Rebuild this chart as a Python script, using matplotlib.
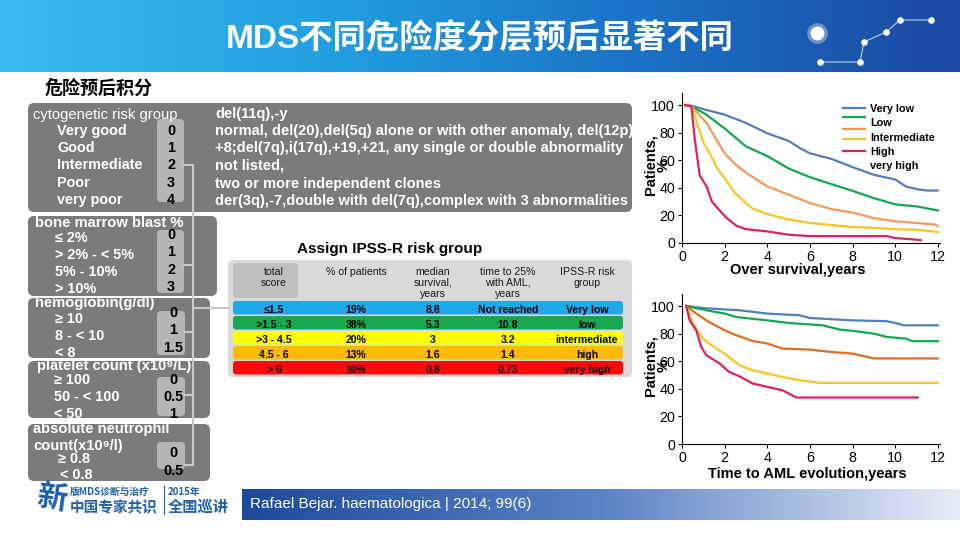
import numpy as np
import matplotlib
matplotlib.use("Agg")
import matplotlib.pyplot as plt
from matplotlib.patches import FancyBboxPatch, Rectangle
from matplotlib.colors import LinearSegmentedColormap

plt.rcParams['font.family'] = ['Liberation Sans', 'Noto Sans CJK SC', 'DejaVu Sans']

title = "MDS不同危险度分层预后显著不同"
subtitle = "危险预后积分"

# scoring panels
cyto_groups = ["Very good", "Good", "Intermediate", "Poor", "very poor"]
cyto_scores = ["0", "1", "2", "3", "4"]
cyto_desc = ["del(11q),-y",
             "normal, del(20),del(5q) alone or with other anomaly, del(12p)",
             "+8;del(7q),i(17q),+19,+21, any single or double abnormality",
             "not listed,",
             "two or more independent clones",
             "der(3q),-7,double with del(7q),complex with 3 abnormalities"]
blast_items = ["≤ 2%", "> 2% - < 5%", "5% - 10%", "> 10%"]
blast_scores = ["0", "1", "2", "3"]
hb_items = ["≥ 10", "8 - < 10", "< 8"]
hb_scores = ["0", "1", "1.5"]
plt_items = ["≥ 100", "50 - < 100", "< 50"]
plt_scores = ["0", "0.5", "1"]
anc_items = ["≥ 0.8", "< 0.8"]
anc_scores = ["0", "0.5"]

# IPSS-R table
table_headers = ["total\nscore", "% of patients", "median\nsurvival,\nyears",
                 "time to 25%\nwith AML,\nyears", "IPSS-R risk\ngroup"]
total_score = ["≤1.5", ">1.5 - 3", ">3 - 4.5", "4.5 - 6", "> 6"]
pct_patients = ["19%", "38%", "20%", "13%", "10%"]
median_surv = ["8.8", "5.3", "3", "1.6", "0.8"]
time_aml = ["Not reached", "10.8", "3.2", "1.4", "0.73"]
risk_group = ["Very low", "low", "intermediate", "high", "very high"]
row_colors = ["#1ea9ea", "#16a84e", "#ffff00", "#ffb900", "#ff0a0a"]

# overall survival curves (years, % patients)
os_vlow_t = [0.15, 0.45, 1, 2, 3, 4, 5, 5.5, 6, 7, 8, 9, 10, 10.5, 11, 11.5, 12]
os_vlow = [100, 99.5, 97, 93, 87, 79.5, 74, 69, 65, 61, 55, 49.4, 46, 41, 39, 38, 38]
os_low_t = [0.15, 0.45, 1.15, 2, 3, 4, 5, 6, 7, 8, 9, 10, 11, 12]
os_low = [100, 99, 93, 83, 70, 63, 54, 47.7, 42.7, 37.8, 32.5, 28, 26.5, 23.6]
os_int_t = [0.15, 0.45, 1.15, 2, 2.5, 3, 4, 5, 6, 7, 8, 9, 10, 11, 11.9, 12]
os_int = [100, 99, 87, 65, 57, 51, 41, 35, 29, 24.6, 22, 18, 15.7, 14.5, 13.3, 12]
os_high_t = [0.15, 0.45, 0.83, 1, 1.3, 1.7, 2, 2.5, 3, 3.3, 4, 5, 6, 7, 8, 9, 10, 11, 12]
os_high = [100, 99, 81, 73, 65, 53, 47, 36, 29, 25, 21, 17, 14.5, 13, 11.6, 11, 10, 9.6, 8]
os_vhigh_t = [0.15, 0.44, 0.6, 0.83, 1.15, 1.4, 1.8, 2.1, 2.55, 3, 4, 5, 6, 9.6, 10, 11, 11.2]
os_vhigh = [100, 99, 75, 49, 41, 30, 23, 18, 12.5, 10, 8.4, 6, 5, 5, 3.6, 2.4, 2]

# time to AML evolution curves
aml_vlow_t = [0.2, 1, 2, 2.7, 4, 5.5, 6, 8, 9.6, 10, 10.4, 12]
aml_vlow = [100, 98.5, 97.5, 96.9, 94.5, 93.3, 91.3, 89.6, 89, 87.7, 86, 86]
aml_low_t = [0.2, 1.14, 2, 2.55, 4, 5, 6.6, 7.4, 8, 9, 9.6, 10.5, 10.8, 12]
aml_low = [100, 96.9, 94.5, 92, 89.6, 87.7, 86, 82.9, 82, 80, 77.6, 76.4, 74.5, 74.5]
aml_int_t = [0.2, 0.67, 1.14, 2, 2.55, 3.3, 4, 4.7, 6, 7, 8, 9, 12]
aml_int = [100, 94.5, 89.6, 82.4, 78.8, 74.7, 72.8, 69.2, 68.4, 66.7, 65.5, 62, 62]
aml_high_t = [0.2, 0.52, 0.98, 1.6, 2, 2.7, 3.3, 4, 4.9, 5.5, 6.45, 12]
aml_high = [100, 87, 76.4, 69.2, 65.5, 57, 53.5, 51, 48, 46.3, 44.3, 44.3]
aml_vhigh_t = [0.2, 0.36, 0.67, 0.9, 1.14, 1.77, 2.2, 2.7, 3.3, 4, 4.7, 5.36, 11.06]
aml_vhigh = [100, 89.6, 82.4, 70.4, 64.3, 58.3, 52.3, 49, 43.9, 41.4, 39, 33.7, 33.7]

legend_labels = ["Very low", "Low", "Intermediate", "High", "very high"]
os_colors = ["#4f7fbc", "#12a74f", "#f3995a", "#fcc322", "#d8245a"]
aml_colors = ["#4f7fbc", "#12a74f", "#e06d20", "#fcc322", "#d8245a"]

fig = plt.figure(figsize=(9.6, 5.4), dpi=100)
bg = fig.add_axes([0, 0, 1, 1])
bg.axis('off')


def rbox(x0, y0, x1, y1, color, r=6, z=1):
    bg.add_patch(FancyBboxPatch((x0, y0), x1 - x0, y1 - y0,
                                boxstyle=f"round,pad=0,rounding_size={r}",
                                fc=color, ec='none', zorder=z))


# header band
hcmap = LinearSegmentedColormap.from_list("hdr", ["#3dbbee", "#22a0e0", "#1a72c6", "#1a49a0"])
bg.imshow(np.linspace(0, 1, 256).reshape(1, -1), extent=[0, 960, 72, 0],
          aspect='auto', cmap=hcmap, zorder=0)
stars = [(820, 62), (860, 62), (864, 42), (886, 32), (900, 20), (931, 20)]
sx, sy = zip(*stars)
bg.plot(sx, sy, color='white', lw=0.8, alpha=0.7, zorder=1)
bg.scatter(sx, sy, s=14, color='white', zorder=2)
bg.scatter([817], [33], s=220, color='white', alpha=0.35, lw=0, zorder=2)
bg.scatter([817], [33], s=80, color='white', zorder=2)
bg.text(480, 39, title, color='white', fontsize=24, fontweight='bold',
        ha='center', va='center', family=['Liberation Sans', 'Noto Sans CJK SC'])
bg.text(45, 88, subtitle, color='black', fontsize=13, fontweight='bold',
        ha='left', va='center', family=['Noto Sans CJK SC'])

dark = "#7b7b7b"
light = "#b5b5b5"
line_c = "#c9c9c9"

# cytogenetic panel
rbox(28, 103, 632, 212, dark)
rbox(157, 119, 184, 202, light, r=4, z=2)
bg.text(33, 115, "cytogenetic risk group", color='white', fontsize=10.6, va='center')
cy = [131, 148, 165, 183, 200]
for lab, sc, y in zip(cyto_groups, cyto_scores, cy):
    bg.text(57, y, lab, color='white', fontsize=10.4, fontweight='bold', va='center')
    bg.text(171, y, sc, color='black', fontsize=10.4, fontweight='bold', va='center', ha='center', zorder=3)
for txt, y in zip(cyto_desc, [114, 131, 148, 166, 184, 201]):
    bg.text(215, y, txt, color='white', fontsize=10.5, fontweight='bold', va='center')

# bone marrow blast panel
rbox(28, 216, 217, 296, dark)
rbox(157, 230, 184, 293, light, r=4, z=2)
bg.text(35, 223, "bone marrow blast %", color='white', fontsize=10.6, fontweight='bold', va='center')
for lab, sc, y, ys in zip(blast_items, blast_scores, [238, 255, 272, 289], [235, 252, 270, 287]):
    bg.text(55, y, lab, color='white', fontsize=10.4, fontweight='bold', va='center')
    bg.text(171, ys, sc, color='black', fontsize=10.4, fontweight='bold', va='center', ha='center', zorder=3)

# hemoglobin panel
rbox(28, 298, 210, 358, dark)
rbox(157, 311, 185, 355, light, r=4, z=2)
bg.text(35, 303, "hemoglobin(g/dl)", color='white', fontsize=10.6, fontweight='bold', va='center')
for lab, sc, y, ys in zip(hb_items, hb_scores, [319, 336, 353], [313, 330, 348]):
    bg.text(55, y, lab, color='white', fontsize=10.4, fontweight='bold', va='center')
    bg.text(173, ys, sc, color='black', fontsize=10.4, fontweight='bold', va='center', ha='center', zorder=3)

# platelet panel
rbox(28, 361, 210, 418, dark)
rbox(157, 377, 185, 416, light, r=4, z=2)
bg.text(37, 366, "platelet count (x10⁹/L)", color='white', fontsize=10.6, fontweight='bold', va='center')
for lab, sc, y in zip(plt_items, plt_scores, [380, 397, 414]):
    bg.text(54, y, lab, color='white', fontsize=10.4, fontweight='bold', va='center')
    bg.text(173, y, sc, color='black', fontsize=10.4, fontweight='bold', va='center', ha='center', zorder=3)

# neutrophil panel
rbox(28, 424, 210, 481, dark)
rbox(157, 442, 185, 469, light, r=4, z=2)
bg.text(33, 429, "absolute neutrophil", color='white', fontsize=10.6, fontweight='bold', va='center')
bg.text(33, 446, "count(x10⁹/l)", color='white', fontsize=10.6, fontweight='bold', va='center')
for lab, sc, x, y, ys in zip(anc_items, anc_scores, [58, 60], [459, 475], [453, 471]):
    bg.text(x, y, lab, color='white', fontsize=10.4, fontweight='bold', va='center')
    bg.text(173, ys, sc, color='black', fontsize=10.4, fontweight='bold', va='center', ha='center', zorder=3)

# connector lines
bg.plot([193, 193], [165, 465], color=line_c, lw=1.5, zorder=4)
for xs, y in zip([184, 184, 185, 185, 185], [165, 265, 332, 395, 465]):
    bg.plot([xs, 193], [y, y], color=line_c, lw=1.5, zorder=4)
bg.plot([193, 229], [308, 308], color=line_c, lw=1.5, zorder=4)

# IPSS-R table
bg.text(297, 249, "Assign IPSS-R risk group", fontsize=11, fontweight='bold', va='center')
rbox(228, 260, 632, 377, "#d9d9d9", r=5)
rbox(233, 263, 298, 298, "#bfbfbf", r=4, z=2)
col_x = [274, 356, 433, 508, 587]
for hx, h in zip(col_x, table_headers):
    bg.text(hx, 267, h, fontsize=7.6, color='#1a1a1a', ha='center', va='top',
            linespacing=1.1, zorder=3)
row_y = [301, 316, 331, 346, 361]
for i, (y0, c) in enumerate(zip(row_y, row_colors)):
    rbox(233, y0, 623, y0 + 13.5, c, r=3, z=4)
    vals = [total_score[i], pct_patients[i], median_surv[i], time_aml[i], risk_group[i]]
    for hx, v in zip(col_x, vals):
        bg.text(hx, y0 + 9, v, fontsize=7.6, fontweight='bold', ha='center', va='center', zorder=5)

# footer
fcmap = LinearSegmentedColormap.from_list("ftr", ["#1c4a9c", "#5b82c4", "#e6edf7"])
bg.imshow(np.linspace(0, 1, 256).reshape(1, -1), extent=[242, 960, 520, 489],
          aspect='auto', cmap=fcmap, zorder=0)
bg.text(250, 504, "Rafael Bejar. haematologica | 2014; 99(6)", color='white',
        fontsize=11, va='center')
logo_c = "#1e5fae"
bg.text(52, 498, "新", color=logo_c, fontsize=22, fontweight='bold', ha='center', va='center',
        family=['Noto Sans CJK SC'], rotation=-8)
bg.text(70, 492, "版MDS诊断与治疗", color=logo_c, fontsize=7, fontweight='bold', va='center',
        family=['Noto Sans CJK SC'])
bg.text(70, 507, "中国专家共识", color=logo_c, fontsize=10.5, fontweight='bold', va='center',
        family=['Noto Sans CJK SC'])
bg.plot([164, 164], [486, 514], color=logo_c, lw=0.8)
bg.text(168, 492, "2015年", color=logo_c, fontsize=7, fontweight='bold', va='center',
        family=['Noto Sans CJK SC'])
bg.text(168, 507, "全国巡讲", color=logo_c, fontsize=11, fontweight='bold', va='center',
        family=['Noto Sans CJK SC'])

# legend for survival plot
for k, (lab, c) in enumerate(zip(legend_labels, os_colors)):
    ly = [108, 117, 129, 139, 151][k]
    bg.plot([843, 865], [ly, ly], color=c, lw=1.6, zorder=5)
    bg.text(870, [109, 123, 138, 152, 166][k], lab, fontsize=7.8, fontweight='bold', va='center', zorder=5)

bg.set_xlim(0, 960)
bg.set_ylim(540, 0)


def km_axes(rect, series, colors, xlabel, xlab_pos, xlab_y):
    ax = fig.add_axes(rect)
    ax.patch.set_alpha(0)
    for (t, s), c in zip(series, colors):
        ax.plot(t, s, color=c, lw=1.6)
    ax.set_xlim(0, 12.1)
    ax.set_ylim(0, 108.7)
    ax.set_xticks(range(0, 13, 2))
    ax.set_yticks(range(0, 101, 20))
    for sp in ['top', 'right']:
        ax.spines[sp].set_visible(False)
    ax.tick_params(labelsize=10.3, length=3, width=0.8, pad=2)
    ax.set_ylabel("Patients,\n%", fontsize=10.5, fontweight='bold', linespacing=0.9)
    ax.yaxis.set_label_coords(-0.045, 0.52)
    ax.set_xlabel(xlabel, fontsize=10.5, fontweight='bold')
    ax.xaxis.set_label_coords(xlab_pos, xlab_y)
    return ax


km_axes([682 / 960, 1 - 243 / 540, 258 / 960, 150 / 540],
        [(os_vlow_t, os_vlow), (os_low_t, os_low), (os_int_t, os_int),
         (os_high_t, os_high), (os_vhigh_t, os_vhigh)],
        os_colors, "Over survival,years", 0.45, -0.135)
km_axes([682 / 960, 1 - 444 / 540, 258 / 960, 150 / 540],
        [(aml_vlow_t, aml_vlow), (aml_low_t, aml_low), (aml_int_t, aml_int),
         (aml_high_t, aml_high), (aml_vhigh_t, aml_vhigh)],
        aml_colors, "Time to AML evolution,years", 0.485, -0.155)

fig.savefig("out.png", dpi=100)
